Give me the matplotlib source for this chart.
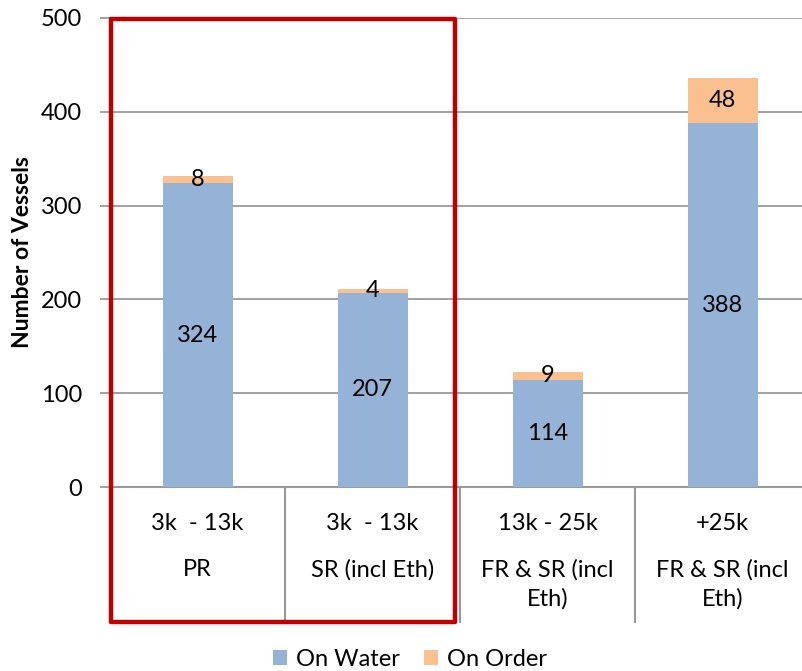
import matplotlib
matplotlib.use("Agg")
import matplotlib.pyplot as plt
from matplotlib.transforms import blended_transform_factory
from matplotlib.patches import Rectangle, Patch

# Vessel counts by size band and type
size_bands = ["3k  - 13k", "3k  - 13k", "13k - 25k", "+25k"]
vessel_types = ["PR", "SR (incl Eth)", "FR & SR (incl\nEth)", "FR & SR (incl\nEth)"]
on_water = [324, 207, 114, 388]
on_order = [8, 4, 9, 48]

BLUE = "#95B3D7"
ORANGE = "#FAC090"
GRID = "#9A9A9A"
RED = "#C00000"

plt.rcParams["font.family"] = ["Lato", "DejaVu Sans"]

W, H = 802, 671
fig = plt.figure(figsize=(W / 100, H / 100), dpi=100)

# plot area in pixels: x 110..810 (four categories of 175 px), y 18..487
left, right, top, bottom = 110, 810, 18, 487
ax = fig.add_axes([left / W, 1 - bottom / H, (right - left) / W, (bottom - top) / H])

x = list(range(len(on_water)))
ax.bar(x, on_water, width=0.4, color=BLUE, zorder=3)
ax.bar(x, on_order, width=0.4, bottom=on_water, color=ORANGE, zorder=3)

fs = 17
for xi, w, o in zip(x, on_water, on_order):
    ax.text(xi, w / 2, str(w), ha="center", va="center", fontsize=fs, zorder=4)
    ax.text(xi, w + o / 2, str(o), ha="center", va="center", fontsize=fs, zorder=4)

ax.set_xlim(-0.5, len(x) - 0.5)
ax.set_ylim(0, 500)
ax.set_yticks(range(0, 501, 100))
ax.tick_params(axis="y", length=7, width=1.3, color=GRID, labelsize=fs, pad=13)
ax.tick_params(axis="x", bottom=False, labelbottom=False)
ax.yaxis.grid(True, color=GRID, linewidth=1.3, zorder=0)
for s in ["top", "right", "left"]:
    ax.spines[s].set_visible(False)
ax.spines["bottom"].set_color(GRID)
ax.spines["bottom"].set_linewidth(1.5)
ax.set_axisbelow(True)

ax.set_ylabel("Number of Vessels", fontsize=16.5, fontweight="bold")
ax.yaxis.set_label_coords((33 - left) / (right - left), 0.5)

# two-level category axis drawn below the plot area
trans = blended_transform_factory(ax.transData, fig.transFigure)
y0 = 1 - bottom / H
y1 = 1 - 622 / H
for b in [-0.5, 0.5, 1.5, 2.5, 3.5]:
    ax.plot([b, b], [y0, y1], transform=trans, color=GRID, lw=1.5, clip_on=False, zorder=1)
for xi, band, vt in zip(x, size_bands, vessel_types):
    ax.text(xi, 1 - 523 / H, band, transform=trans, ha="center", va="center", fontsize=fs)
    ax.text(xi, 1 - 559 / H, vt, transform=trans, ha="center", va="top", fontsize=fs,
            linespacing=1.45)

# highlight box around the first two categories
x_left = -0.5 + 0.5 / 175
x_right = (455 - left) / 175 - 0.5
box = Rectangle((x_left, 1 - 622 / H), x_right - x_left, (622 - 19) / H,
                transform=trans, fill=False, edgecolor=RED, linewidth=3.2,
                joinstyle="round", clip_on=False, zorder=6)
ax.add_patch(box)

handles = [Patch(facecolor=BLUE, label="On Water"), Patch(facecolor=ORANGE, label="On Order")]
fig.legend(handles=handles, loc="center", bbox_to_anchor=(410 / W, 1 - 659 / H), ncol=2,
           frameon=False, fontsize=fs, handlelength=0.6, handleheight=0.6,
           handletextpad=0.4, columnspacing=1.0)

fig.savefig("out.png", dpi=100)
